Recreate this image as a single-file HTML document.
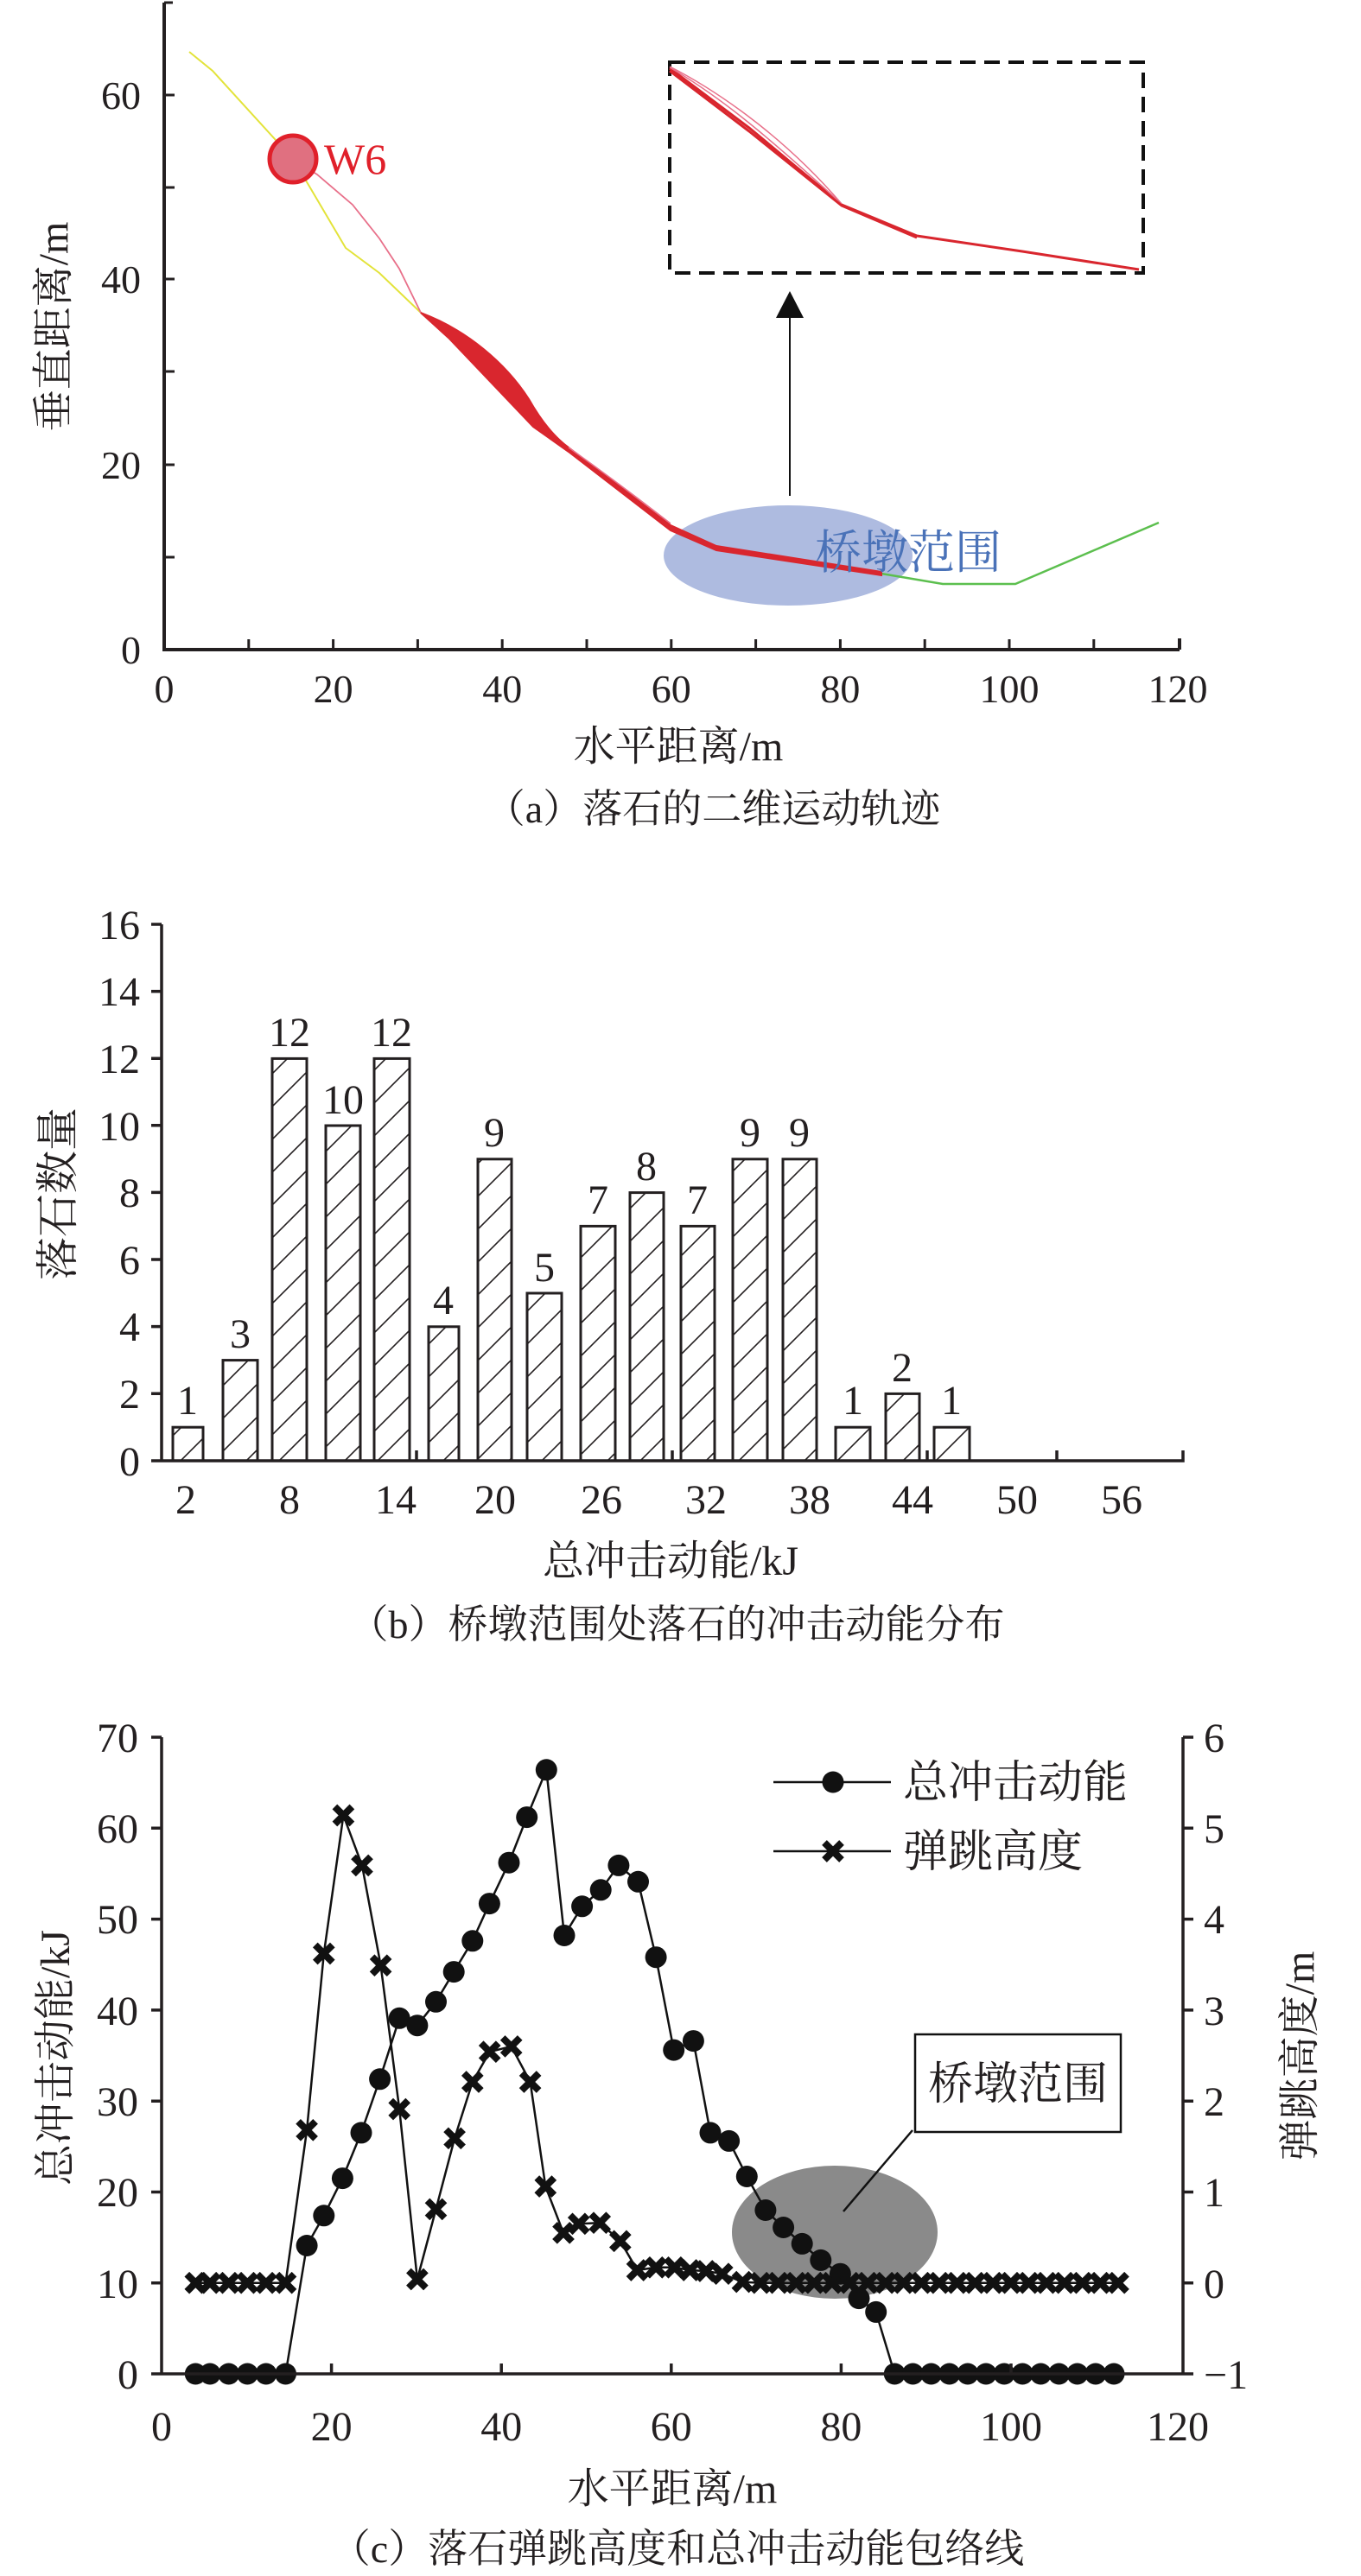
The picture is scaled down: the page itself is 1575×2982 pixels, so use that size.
<!DOCTYPE html>
<html><head><meta charset="utf-8"><style>
html,body{margin:0;padding:0;background:#fff}
svg{display:block}
text{font-family:"Liberation Serif","Noto Serif CJK SC",serif;fill:#231f20}
</style></head><body>
<svg width="1575" height="2982" viewBox="0 0 1575 2982" xmlns="http://www.w3.org/2000/svg">
<defs>
<pattern id="h" patternUnits="userSpaceOnUse" width="38" height="38">
<path d="M-5,43 L43,-5 M-5,5 L5,-5 M33,43 L43,33" stroke="#231f20" stroke-width="1.6"/>
</pattern>
<g id="x"><path d="M-10,-10 L10,10 M10,-10 L-10,10" stroke="#111" stroke-width="8"/></g>
</defs>

<!-- ===== Panel (a) ===== -->
<g>
<ellipse cx="912" cy="643" rx="144" ry="58" fill="#aebbe0"/>
<polyline points="219,60 246,82 339,184 357,214 400,287 439,316 487,362 520,390" fill="none" stroke="#e3e33a" stroke-width="2"/>
<polyline points="520,390 617,492 658,520 776,612 829,635 1020,664 1091,676 1175,676 1341,605" fill="none" stroke="#5cbf4e" stroke-width="2.5"/>
<polyline points="339,184 367,202 408,237 439,276 462,311 487,362" fill="none" stroke="#e8708a" stroke-width="1.8"/>
<!-- red band -->
<path d="M487,362 C540,382 585,420 612,462 C625,485 640,505 658,518 L776,608 L829,632 L1020,662 L1020,666 L829,637 L776,614 L658,523 L617,494 L520,392 Z" fill="#d9262e" stroke="#d9262e" stroke-width="2"/>
<path d="M658,518 C700,548 740,578 776,606" fill="none" stroke="#e8708a" stroke-width="1.5"/>
<circle cx="339" cy="184" r="27" fill="#e07080" stroke="#e0202a" stroke-width="5"/>
<text x="375" y="201" font-size="50" style="fill:#e0202a">W6</text>
<!-- inset -->
<rect x="775" y="72" width="548" height="244" fill="none" stroke="#111" stroke-width="4" stroke-dasharray="18 10"/>
<path d="M775,79 L867,148 L974,237 L1061,273 L1183,291 L1318,312" fill="none" stroke="#d9262e" stroke-width="3"/>
<path d="M775,77 C820,100 900,150 974,236" fill="none" stroke="#e8708a" stroke-width="1.5"/>
<path d="M775,78 C830,110 880,150 974,236" fill="none" stroke="#e8708a" stroke-width="1.5"/>
<path d="M775,82 L867,152 L974,238 L1061,275" fill="none" stroke="#d9262e" stroke-width="3"/>
<line x1="914" y1="574" x2="914" y2="365" stroke="#111" stroke-width="2"/>
<polygon points="914,337 898,368 930,368" fill="#111"/>
<text x="943" y="658" font-size="54" style="fill:#4a72b8">桥墩范围</text>
<path d="M190,3 L190,752 L1365,752 M1365,752 L1365,739" fill="none" stroke="#231f20" stroke-width="4"/>
<path d="M190,110 h12 M190,217 h12 M190,323 h12 M190,430 h12 M190,538 h12 M190,645 h12 M190,3 h10
M287.8,752 v-12 M385.6,752 v-12 M483.4,752 v-12 M581.2,752 v-12 M679,752 v-12 M776.8,752 v-12 M874.6,752 v-12 M972.4,752 v-12 M1070.2,752 v-12 M1168,752 v-12 M1265.8,752 v-12" stroke="#231f20" stroke-width="3"/>
<g font-size="46" text-anchor="end">
<text x="163" y="126">60</text><text x="163" y="339">40</text><text x="163" y="554">20</text><text x="163" y="768">0</text>
</g>
<g font-size="46" text-anchor="middle">
<text x="190" y="813">0</text><text x="385.6" y="813">20</text><text x="581.2" y="813">40</text><text x="776.8" y="813">60</text><text x="972.4" y="813">80</text><text x="1168" y="813">100</text><text x="1363" y="813">120</text>
</g>
<text transform="translate(78,378) rotate(-90)" font-size="48" text-anchor="middle">垂直距离/m</text>
<text x="785" y="880" font-size="48" text-anchor="middle">水平距离/m</text>
<text x="825" y="952" font-size="46" text-anchor="middle">（a）落石的二维运动轨迹</text>
</g>

<!-- ===== Panel (b) ===== -->
<g stroke="#231f20" stroke-width="3" fill="url(#h)">
<rect x="200" y="1652.2" width="35" height="38.8"/>
<rect x="258" y="1574.6" width="40" height="116.4"/>
<rect x="315" y="1225.4" width="40" height="465.6"/>
<rect x="377" y="1303" width="40" height="388"/>
<rect x="433" y="1225.4" width="41" height="465.6"/>
<rect x="496" y="1535.8" width="35" height="155.2"/>
<rect x="553" y="1341.8" width="39" height="349.2"/>
<rect x="610" y="1497" width="40" height="194"/>
<rect x="672" y="1419.4" width="40" height="271.6"/>
<rect x="729" y="1380.6" width="39" height="310.4"/>
<rect x="788" y="1419.4" width="39" height="271.6"/>
<rect x="848" y="1341.8" width="40" height="349.2"/>
<rect x="906" y="1341.8" width="39" height="349.2"/>
<rect x="967" y="1652.2" width="40" height="38.8"/>
<rect x="1025" y="1613.4" width="39" height="77.6"/>
<rect x="1081" y="1652.2" width="41" height="38.8"/>
</g>
<path d="M187,1070 L187,1691 L1369,1691 L1369,1679 M187,1070 h-12 M187,1147.6 h-12 M187,1225.2 h-12 M187,1302.8 h-12 M187,1380.4 h-12 M187,1458 h-12 M187,1535.6 h-12 M187,1613.2 h-12 M187,1691 h-12 M482,1691 v-12 M778,1691 v-12 M1073,1691 v-12 M1223,1691 v-12" fill="none" stroke="#231f20" stroke-width="3.5"/>
<g font-size="48" text-anchor="end">
<text x="162" y="1087">16</text><text x="162" y="1164">14</text><text x="162" y="1242">12</text><text x="162" y="1320">10</text><text x="162" y="1397">8</text><text x="162" y="1475">6</text><text x="162" y="1552">4</text><text x="162" y="1630">2</text><text x="162" y="1708">0</text>
</g>
<g font-size="48" text-anchor="middle">
<text x="217" y="1637">1</text><text x="278" y="1560">3</text><text x="335" y="1211">12</text><text x="397" y="1289">10</text><text x="453" y="1211">12</text><text x="513" y="1521">4</text><text x="572" y="1327">9</text><text x="630" y="1483">5</text><text x="692" y="1405">7</text><text x="748" y="1366">8</text><text x="807" y="1405">7</text><text x="868" y="1327">9</text><text x="925" y="1327">9</text><text x="987" y="1637">1</text><text x="1044" y="1599">2</text><text x="1101" y="1637">1</text>
</g>
<g font-size="48" text-anchor="middle">
<text x="215" y="1752">2</text><text x="335" y="1752">8</text><text x="458" y="1752">14</text><text x="573" y="1752">20</text><text x="696" y="1752">26</text><text x="817" y="1752">32</text><text x="937" y="1752">38</text><text x="1056" y="1752">44</text><text x="1177" y="1752">50</text><text x="1298" y="1752">56</text>
</g>
<text transform="translate(84,1382) rotate(-90)" font-size="50" text-anchor="middle">落石数量</text>
<text x="776" y="1823" font-size="48" text-anchor="middle">总冲击动能/kJ</text>
<text x="783" y="1896" font-size="46" text-anchor="middle">（b）桥墩范围处落石的冲击动能分布</text>

<!-- ===== Panel (c) ===== -->
<ellipse cx="966" cy="2584" rx="119" ry="77" fill="#8a8a8a"/>
<line x1="1056" y1="2466" x2="976" y2="2560" stroke="#111" stroke-width="2.5"/>
<rect x="1059" y="2355" width="238" height="113" fill="#fff" stroke="#111" stroke-width="2.5"/>
<text x="1178" y="2430" font-size="52" text-anchor="middle">桥墩范围</text>

<polyline fill="none" stroke="#111" stroke-width="2.5" points="226.3,2748 243,2748 264.7,2748 286.3,2748 307.9,2748 330.5,2748 355.1,2599.5 374.8,2564.8 396.4,2521.6 418,2468.9 439.6,2406.8 462.2,2336.3 482.9,2344.7 504.5,2317.3 525.2,2282.6 546.8,2246.8 566.4,2203.6 589,2156.2 609.7,2103.6 632.3,2048.8 653,2240.5 673.6,2206.8 695.2,2187.8 715.9,2159.4 738.5,2178.3 759.1,2265.7 779.7,2373.1 802.4,2362.6 822,2468.9 843.6,2478.4 864.3,2519.5 885.9,2558.5 906.6,2578.5 928.2,2597.4 949.8,2616.4 972.4,2632.2 994,2660.6 1013.7,2676.4 1035.3,2748 1289,2748"/>
<g fill="#111">
<circle cx="226.3" cy="2748" r="12.5"/><circle cx="243" cy="2748" r="12.5"/><circle cx="264.7" cy="2748" r="12.5"/><circle cx="286.3" cy="2748" r="12.5"/><circle cx="307.9" cy="2748" r="12.5"/><circle cx="330.5" cy="2748" r="12.5"/>
<circle cx="355.1" cy="2599.5" r="12.5"/><circle cx="374.8" cy="2564.8" r="12.5"/><circle cx="396.4" cy="2521.6" r="12.5"/><circle cx="418" cy="2468.9" r="12.5"/><circle cx="439.6" cy="2406.8" r="12.5"/><circle cx="462.2" cy="2336.3" r="12.5"/><circle cx="482.9" cy="2344.7" r="12.5"/><circle cx="504.5" cy="2317.3" r="12.5"/><circle cx="525.2" cy="2282.6" r="12.5"/><circle cx="546.8" cy="2246.8" r="12.5"/><circle cx="566.4" cy="2203.6" r="12.5"/><circle cx="589" cy="2156.2" r="12.5"/><circle cx="609.7" cy="2103.6" r="12.5"/><circle cx="632.3" cy="2048.8" r="12.5"/><circle cx="653" cy="2240.5" r="12.5"/><circle cx="673.6" cy="2206.8" r="12.5"/><circle cx="695.2" cy="2187.8" r="12.5"/><circle cx="715.9" cy="2159.4" r="12.5"/><circle cx="738.5" cy="2178.3" r="12.5"/><circle cx="759.1" cy="2265.7" r="12.5"/><circle cx="779.7" cy="2373.1" r="12.5"/><circle cx="802.4" cy="2362.6" r="12.5"/><circle cx="822" cy="2468.9" r="12.5"/><circle cx="843.6" cy="2478.4" r="12.5"/><circle cx="864.3" cy="2519.5" r="12.5"/><circle cx="885.9" cy="2558.5" r="12.5"/><circle cx="906.6" cy="2578.5" r="12.5"/><circle cx="928.2" cy="2597.4" r="12.5"/><circle cx="949.8" cy="2616.4" r="12.5"/><circle cx="972.4" cy="2632.2" r="12.5"/><circle cx="994" cy="2660.6" r="12.5"/><circle cx="1013.7" cy="2676.4" r="12.5"/>
<circle cx="1035.3" cy="2748" r="12.5"/><circle cx="1056.4" cy="2748" r="12.5"/><circle cx="1077.6" cy="2748" r="12.5"/><circle cx="1098.7" cy="2748" r="12.5"/><circle cx="1119.9" cy="2748" r="12.5"/><circle cx="1141" cy="2748" r="12.5"/><circle cx="1162.1" cy="2748" r="12.5"/><circle cx="1183.3" cy="2748" r="12.5"/><circle cx="1204.4" cy="2748" r="12.5"/><circle cx="1225.5" cy="2748" r="12.5"/><circle cx="1246.7" cy="2748" r="12.5"/><circle cx="1267.8" cy="2748" r="12.5"/><circle cx="1289" cy="2748" r="12.5"/>
</g>

<polyline fill="none" stroke="#111" stroke-width="2.5" points="226.3,2642.7 330.5,2642.7 355.1,2465.8 374.8,2261.5 397.4,2101.5 419,2159.4 440.6,2275.2 462.2,2441.6 482.9,2638.5 504.5,2557.4 526.1,2475.3 546.8,2410 566.7,2375.2 591.7,2368.9 613.6,2410 631.3,2531.1 652,2584.8 669.7,2574.3 694.2,2573.2 717.8,2594.3 737.5,2628 759.1,2624.8 780.7,2624.8 798.4,2628 817.1,2629 835.8,2632.2 859.4,2641.6 880,2642.7 1294,2642.7"/>
<g>
<use href="#x" x="226.3" y="2642.7"/><use href="#x" x="243" y="2642.7"/><use href="#x" x="264.7" y="2642.7"/><use href="#x" x="286.3" y="2642.7"/><use href="#x" x="307.9" y="2642.7"/><use href="#x" x="330.5" y="2642.7"/>
<use href="#x" x="355.1" y="2465.8"/><use href="#x" x="374.8" y="2261.5"/><use href="#x" x="397.4" y="2101.5"/><use href="#x" x="419" y="2159.4"/><use href="#x" x="440.6" y="2275.2"/><use href="#x" x="462.2" y="2441.6"/><use href="#x" x="482.9" y="2638.5"/><use href="#x" x="504.5" y="2557.4"/><use href="#x" x="526.1" y="2475.3"/><use href="#x" x="546.8" y="2410"/><use href="#x" x="566.7" y="2375.2"/><use href="#x" x="591.7" y="2368.9"/><use href="#x" x="613.6" y="2410"/><use href="#x" x="631.3" y="2531.1"/><use href="#x" x="652" y="2584.8"/><use href="#x" x="669.7" y="2574.3"/><use href="#x" x="694.2" y="2573.2"/><use href="#x" x="717.8" y="2594.3"/><use href="#x" x="737.5" y="2628"/><use href="#x" x="759.1" y="2624.8"/><use href="#x" x="780.7" y="2624.8"/><use href="#x" x="798.4" y="2628"/><use href="#x" x="817.1" y="2629"/><use href="#x" x="835.8" y="2632.2"/><use href="#x" x="859.4" y="2641.6"/>
<use href="#x" x="880" y="2642.7"/><use href="#x" x="900.7" y="2642.7"/><use href="#x" x="921.4" y="2642.7"/><use href="#x" x="942.1" y="2642.7"/><use href="#x" x="962.8" y="2642.7"/><use href="#x" x="983.5" y="2642.7"/><use href="#x" x="1004.2" y="2642.7"/><use href="#x" x="1024.9" y="2642.7"/><use href="#x" x="1045.6" y="2642.7"/><use href="#x" x="1066.3" y="2642.7"/><use href="#x" x="1087" y="2642.7"/><use href="#x" x="1107.7" y="2642.7"/><use href="#x" x="1128.4" y="2642.7"/><use href="#x" x="1149.1" y="2642.7"/><use href="#x" x="1169.8" y="2642.7"/><use href="#x" x="1190.5" y="2642.7"/><use href="#x" x="1211.2" y="2642.7"/><use href="#x" x="1231.9" y="2642.7"/><use href="#x" x="1252.6" y="2642.7"/><use href="#x" x="1273.3" y="2642.7"/><use href="#x" x="1294" y="2642.7"/>
</g>

<line x1="895" y1="2063" x2="1031" y2="2063" stroke="#111" stroke-width="2.5"/>
<circle cx="964" cy="2063" r="12.5" fill="#111"/>
<line x1="895" y1="2143" x2="1031" y2="2143" stroke="#111" stroke-width="2.5"/>
<use href="#x" x="964" y="2143"/>
<text x="1045" y="2081" font-size="52">总冲击动能</text>
<text x="1045" y="2161" font-size="52">弹跳高度</text>

<path d="M187,2011 L187,2748 L1369,2748 L1369,2011
M187,2011 h-12 M187,2116.3 h-12 M187,2221.6 h-12 M187,2326.9 h-12 M187,2432.2 h-12 M187,2537.5 h-12 M187,2642.8 h-12 M187,2748 h-12
M1369,2011 h12 M1369,2116.3 h12 M1369,2221.6 h12 M1369,2326.9 h12 M1369,2432.2 h12 M1369,2537.5 h12 M1369,2642.8 h12 M1369,2748 h12
M383.6,2748 v-12 M580.2,2748 v-12 M776.8,2748 v-12 M973.4,2748 v-12 M1170,2748 v-12" fill="none" stroke="#231f20" stroke-width="3.5"/>
<g font-size="48" text-anchor="end">
<text x="160" y="2028">70</text><text x="160" y="2133">60</text><text x="160" y="2238">50</text><text x="160" y="2344">40</text><text x="160" y="2449">30</text><text x="160" y="2554">20</text><text x="160" y="2660">10</text><text x="160" y="2765">0</text>
</g>
<g font-size="48">
<text x="1393" y="2028">6</text><text x="1393" y="2133">5</text><text x="1393" y="2238">4</text><text x="1393" y="2344">3</text><text x="1393" y="2449">2</text><text x="1393" y="2554">1</text><text x="1393" y="2660">0</text><text x="1393" y="2765">−1</text>
</g>
<g font-size="48" text-anchor="middle">
<text x="187" y="2825">0</text><text x="383.6" y="2825">20</text><text x="580.2" y="2825">40</text><text x="776.8" y="2825">60</text><text x="973.4" y="2825">80</text><text x="1170" y="2825">100</text><text x="1363" y="2825">120</text>
</g>
<text transform="translate(80,2382) rotate(-90)" font-size="48" text-anchor="middle">总冲击动能/kJ</text>
<text transform="translate(1520,2380) rotate(-90)" font-size="48" text-anchor="middle">弹跳高度/m</text>
<text x="778" y="2897" font-size="48" text-anchor="middle">水平距离/m</text>
<text x="784" y="2966" font-size="46" text-anchor="middle">（c）落石弹跳高度和总冲击动能包络线</text>
</svg>
</body></html>
